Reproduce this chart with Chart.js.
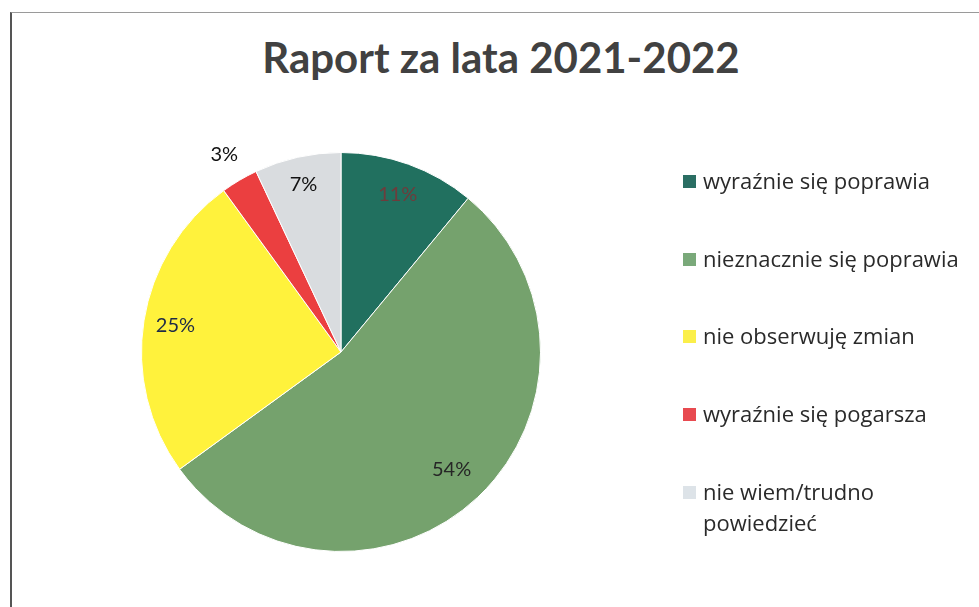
<!DOCTYPE html>
<html lang="pl">
<head>
<meta charset="utf-8">
<title>Raport za lata 2021-2022</title>
<script src="https://cdn.jsdelivr.net/npm/chart.js@4/dist/chart.umd.min.js"></script>
<style>
  html, body { margin: 0; padding: 0; background: #fff; }
  body { width: 979px; height: 607px; position: relative; overflow: hidden; font-family: Lato, "Open Sans", sans-serif; }
  /* scanned frame edges */
  .frame { position: absolute; left: 10px; top: 12px; width: 1000px; height: 700px;
           border-left: 2px solid #555; border-top: 1px solid #9a9a9a; box-sizing: border-box; }
  .title { position: absolute; left: 0; top: 32px; width: 1002px; text-align: center;
           font: bold 42px Lato, sans-serif; color: #414141; margin: 0; }
  #chartBox { position: absolute; left: 0; top: 0; width: 979px; height: 607px; }
  .legend { position: absolute; left: 683px; top: 0; margin: 0; padding: 0; list-style: none; }
  .legend li { position: absolute; left: 0; width: 295px; font: 22px "Open Sans", sans-serif; line-height: 31px; color: #2a2a2a;
               white-space: nowrap; }
  .legend .box { position: absolute; left: 0; top: 10px; width: 13px; height: 13px; }
  .legend .txt { position: absolute; left: 20px; top: 0; }
</style>
</head>
<body>
<div class="frame"></div>
<h1 class="title">Raport za lata 2021-2022</h1>
<div id="chartBox"><canvas id="pieChart" width="979" height="607"></canvas></div>
<ul class="legend" id="legend"></ul>

<script>
// chart data
const categories = [
  'wyraźnie się poprawia',
  'nieznacznie się poprawia',
  'nie obserwuję zmian',
  'wyraźnie się pogarsza',
  'nie wiem/trudno powiedzieć'
];
const legendLines = [
  ['wyraźnie się poprawia'],
  ['nieznacznie się poprawia'],
  ['nie obserwuję zmian'],
  ['wyraźnie się pogarsza'],
  ['nie wiem/trudno', 'powiedzieć']
];
const percentValues = [11, 54, 25, 3, 7];
const sliceColors = ['#21705f', '#75a26d', '#fff23c', '#eb3f40', '#d9dcdf'];
const legendColors = ['#2a6e63', '#7aa97a', '#fbef4a', '#e84a50', '#dde3e8'];
const labelColors = ['#6e3c3c', '#262626', '#1e2b48', '#111111', '#111111'];
// label distance from centre as share of radius
const labelRadius = [0.84, 0.81, 0.84, 1.15, 0.86];

// percentage labels on / next to slices
const sliceLabels = {
  id: 'sliceLabels',
  afterDatasetsDraw(chart) {
    const ctx = chart.ctx;
    const meta = chart.getDatasetMeta(0);
    ctx.save();
    ctx.font = '20px Lato, sans-serif';
    ctx.textAlign = 'center';
    ctx.textBaseline = 'middle';
    meta.data.forEach((arc, i) => {
      const p = arc.getProps(['x', 'y', 'startAngle', 'endAngle', 'outerRadius'], true);
      const mid = (p.startAngle + p.endAngle) / 2;
      const r = p.outerRadius * labelRadius[i];
      ctx.fillStyle = labelColors[i];
      ctx.fillText(percentValues[i] + '%', p.x + Math.cos(mid) * r, p.y + Math.sin(mid) * r);
    });
    ctx.restore();
  }
};

new Chart(document.getElementById('pieChart'), {
  type: 'pie',
  data: {
    labels: categories,
    datasets: [{
      data: percentValues,
      backgroundColor: sliceColors,
      borderColor: '#ffffff',
      borderWidth: 1
    }]
  },
  options: {
    responsive: false,
    animation: false,
    layout: { padding: { left: 141, right: 438, top: 152, bottom: 55 } },
    plugins: {
      legend: { display: false },
      title: { display: false },
      tooltip: { enabled: false }
    }
  },
  plugins: [sliceLabels]
});

// legend built from the same arrays
const legendEl = document.getElementById('legend');
const rowTops = [165, 243, 320, 398, 476];
categories.forEach((name, i) => {
  const li = document.createElement('li');
  li.style.top = rowTops[i] + 'px';
  const box = document.createElement('span');
  box.className = 'box';
  box.style.background = legendColors[i];
  const txt = document.createElement('span');
  txt.className = 'txt';
  txt.innerHTML = legendLines[i].join('<br>');
  li.appendChild(box);
  li.appendChild(txt);
  legendEl.appendChild(li);
});
</script>
</body>
</html>
